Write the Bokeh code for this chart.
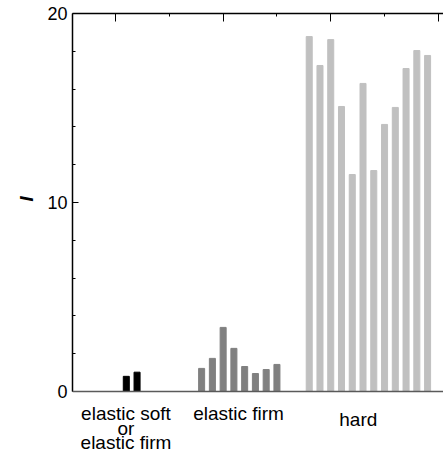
from bokeh.plotting import figure
from bokeh.models import FixedTicker, LinearAxis, Label, Range1d, Span, Title
from bokeh.embed import file_html
from bokeh.resources import INLINE

# sample numbers (top axis) and intensity values
soft_samples = [6, 7]
soft_values = [0.8, 1.02]
firm_samples = [13, 14, 15, 16, 17, 18, 19, 20]
firm_values = [1.22, 1.75, 3.39, 2.28, 1.32, 0.95, 1.16, 1.43]
hard_samples = [23, 24, 25, 26, 27, 28, 29, 30, 31, 32, 33, 34]
hard_values = [18.78, 17.25, 18.62, 15.08, 11.48, 16.30, 11.69, 14.13, 15.03, 17.09, 18.04, 17.78]

y_major = [0, 10, 20]
y_minor = [2, 4, 6, 8, 12, 14, 16, 18]
top_major = [5, 15, 25, 35]
top_minor = [10, 20, 30]

FONT = "Liberation Sans"

p = figure(width=443, height=452, output_backend="svg", toolbar_location=None,
           x_range=Range1d(1, 35.48), y_range=Range1d(-3.23, 20),
           min_border_left=72, min_border_right=0, min_border_top=13, min_border_bottom=0)
p.outline_line_color = None
p.xgrid.visible = False
p.ygrid.visible = False
p.xaxis.visible = False

W = 0.56
p.vbar(x=soft_samples, top=soft_values, width=W, bottom=0, color="#000000")
p.vbar(x=firm_samples, top=firm_values, width=W, bottom=0, color="#808080")
p.vbar(x=hard_samples, top=hard_values, width=W, bottom=0, color="#c0c0c0")

# baseline (bottom axis line)
p.add_layout(Span(location=0, dimension="width", line_color="#5a5a5a", line_width=1.5))

# left axis
ya = p.yaxis[0]
ya.bounds = (0, 20)
ya.ticker = FixedTicker(ticks=y_major, minor_ticks=y_minor)
ya.major_tick_in = 6
ya.major_tick_out = 0
ya.minor_tick_in = 3
ya.minor_tick_out = 0
ya.axis_line_color = "black"
ya.axis_line_width = 1.5
ya.major_tick_line_width = 1.2
ya.minor_tick_line_width = 1
ya.major_label_text_font = FONT
ya.major_label_text_font_size = "18px"
ya.major_label_text_color = "black"
ya.major_label_standoff = 5

# y axis title, placed at the middle of the 0..20 span
ylab = Title(text="I", align="left", offset=251, standoff=15,
             text_font=FONT, text_font_style="bold italic", text_font_size="19px",
             text_color="black")
p.add_layout(ylab, "left")

# top axis
ta = LinearAxis(ticker=FixedTicker(ticks=top_major, minor_ticks=top_minor))
ta.major_tick_in = 8
ta.major_tick_out = 0
ta.minor_tick_in = 3
ta.minor_tick_out = 0
ta.axis_line_color = "black"
ta.axis_line_width = 1.5
ta.major_label_overrides = {t: "" for t in top_major}
ta.major_label_standoff = 0
p.add_layout(ta, "above")

# category labels
cat_labels = [
    (5.97, -1.14, "elastic soft"),
    (5.97, -1.98, "or"),
    (5.97, -2.72, "elastic firm"),
    (16.43, -1.14, "elastic firm"),
    (27.56, -1.48, "hard"),
]
for x, y, t in cat_labels:
    p.add_layout(Label(x=x, y=y, text=t, text_align="center", text_baseline="alphabetic",
                       text_font=FONT, text_font_size="19px", text_color="black"))

open("out.html", "w").write(file_html(p, INLINE))
